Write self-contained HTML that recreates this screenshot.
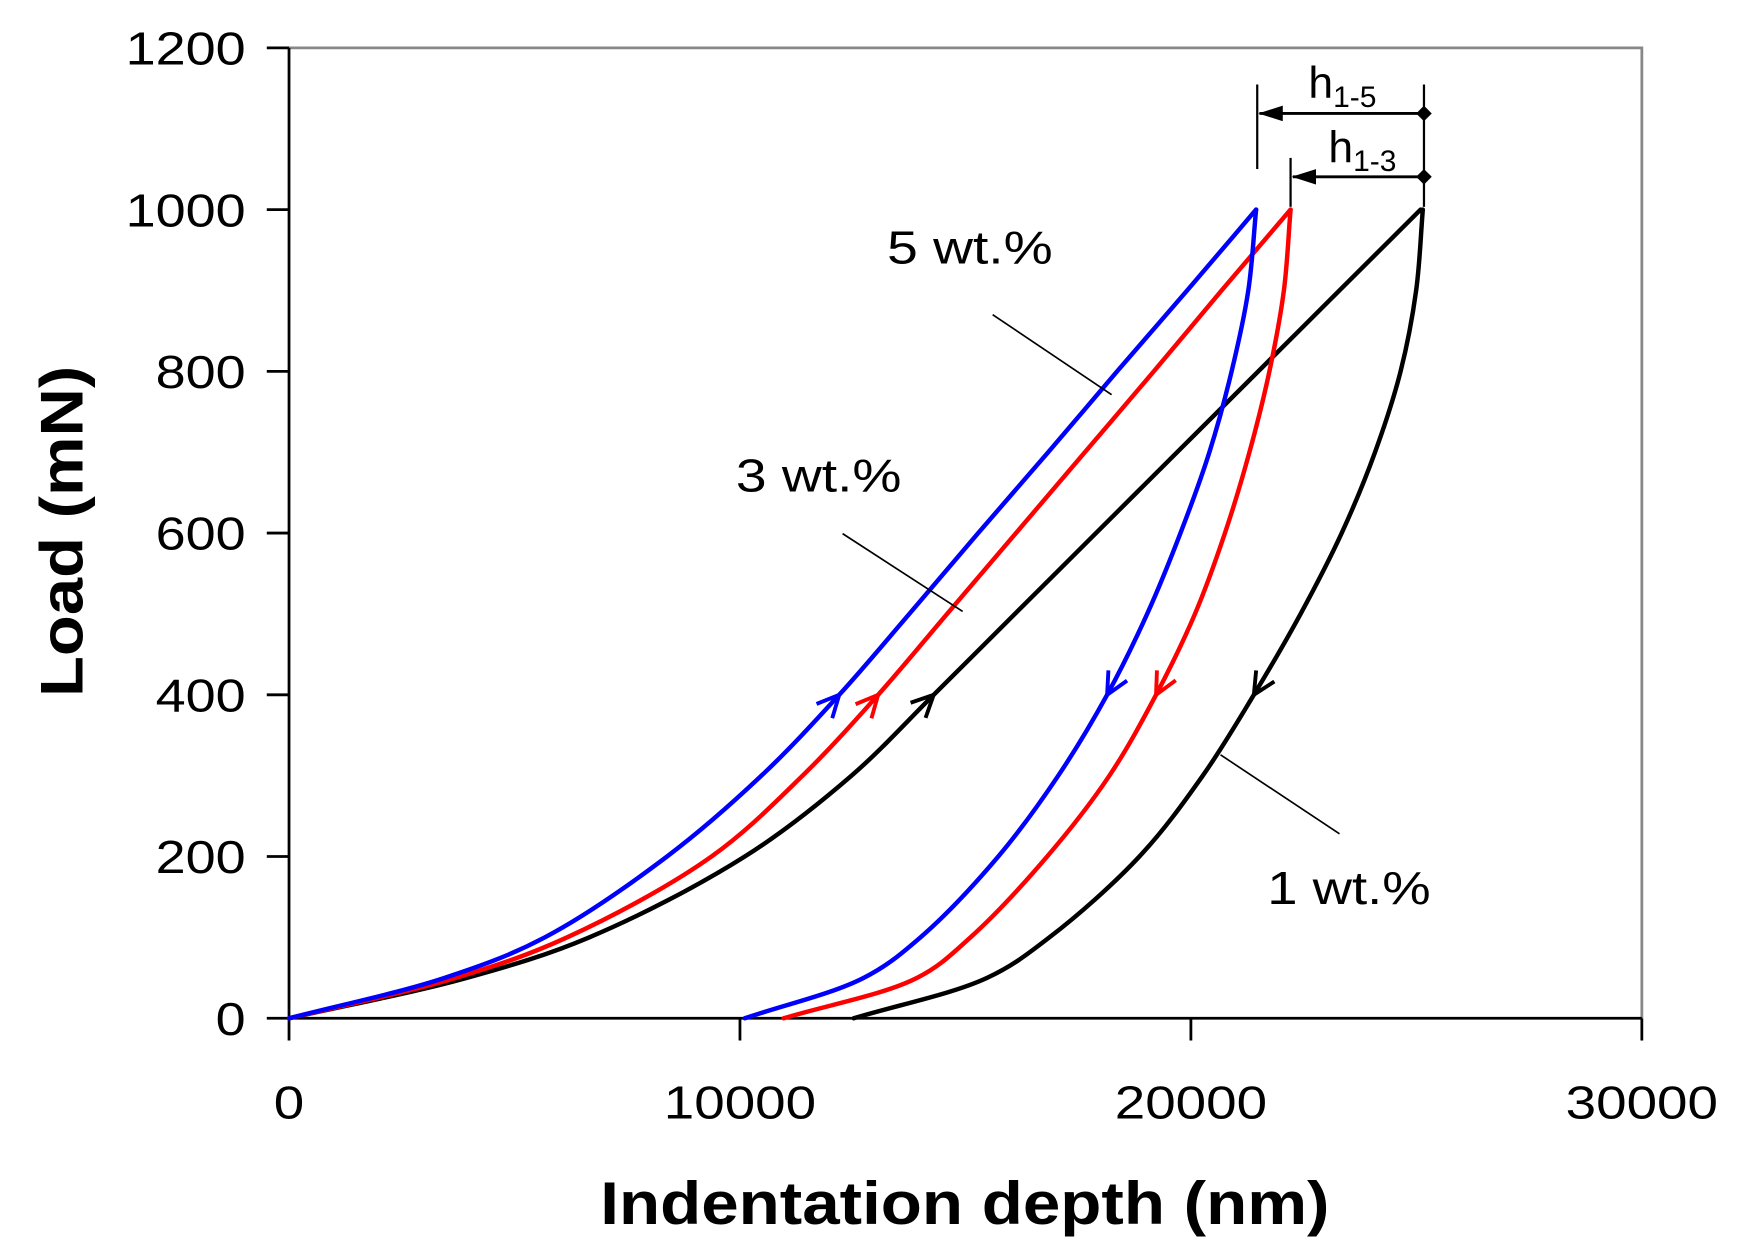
<!DOCTYPE html>
<html><head><meta charset="utf-8"><style>
html,body{margin:0;padding:0;background:#fff}
svg{display:block}
text{font-family:"Liberation Sans",Arial,sans-serif}
</style></head><body>
<svg id="chart" width="1743" height="1254" viewBox="0 0 1568 1128" xmlns="http://www.w3.org/2000/svg">
<defs>
<marker id="ah" markerWidth="22" markerHeight="14" refX="21" refY="7" orient="auto" markerUnits="userSpaceOnUse"><path d="M0,0 L22,7 L0,14 Z" fill="#000"/></marker>
</defs>
<g id="axes"></g>
<g id="series"></g>
<g id="notes">
  <text x="798" y="237" font-size="42" textLength="149" lengthAdjust="spacingAndGlyphs">5 wt.%</text>
  <line x1="893" y1="283" x2="1000" y2="355" stroke="#000" stroke-width="1.5"/>
  <text x="662" y="442" font-size="42" textLength="149" lengthAdjust="spacingAndGlyphs">3 wt.%</text>
  <line x1="758" y1="480" x2="866" y2="550" stroke="#000" stroke-width="1.5"/>
  <text x="1140" y="813" font-size="42" textLength="147" lengthAdjust="spacingAndGlyphs">1 wt.%</text>
  <line x1="1098" y1="679" x2="1205" y2="750" stroke="#000" stroke-width="1.5"/>
  <line x1="1131" y1="76" x2="1131" y2="152" stroke="#000" stroke-width="2"/>
  <line x1="1161" y1="142" x2="1161" y2="186" stroke="#000" stroke-width="2"/>
  <line x1="1281" y1="76" x2="1281" y2="186" stroke="#000" stroke-width="2"/>
  <line x1="1281" y1="102" x2="1133" y2="102" stroke="#000" stroke-width="2.5" marker-end="url(#ah)"/>
  <line x1="1281" y1="159" x2="1163" y2="159" stroke="#000" stroke-width="2.5" marker-end="url(#ah)"/>
  <path d="M1281,95 L1288,102 L1281,109 L1274,102 Z" fill="#000"/>
  <path d="M1281,152 L1288,159 L1281,166 L1274,159 Z" fill="#000"/>
  <text x="1177" y="88" font-size="40">h<tspan font-size="27" dy="8">1-5</tspan></text>
  <text x="1195" y="146" font-size="40">h<tspan font-size="27" dy="8">1-3</tspan></text>
</g>
<text x="540" y="1101" font-size="54" font-weight="bold" textLength="656" lengthAdjust="spacingAndGlyphs">Indentation depth (nm)</text>
<text transform="translate(74,627) rotate(-90)" font-size="54" font-weight="bold" textLength="298" lengthAdjust="spacingAndGlyphs">Load (mN)</text>
</svg>
<script>
const xTicks=[0,10000,20000,30000];
const yTicks=[0,200,400,600,800,1000,1200];
const seriesNames=['1 wt.%','3 wt.%','5 wt.%'];
const seriesColors=['#000','#ff0000','#0000ff'];
const loadLevels=[0,50,100,200,300,400,500,600,700,800,900,1000];
const black_load_depth=[0,3944,6656,10107,12473,14297,16096,17896,19695,21495,23294,25094];
const red_load_depth=[0,3698,6163,9367,11388,13065,14593,16121,17649,19178,20681,22210];
const blue_load_depth=[0,3451,5670,8381,10476,12202,13755,15283,16836,18364,19917,21446];
const black_unload_depth=[12522,15480,16861,18857,20263,21396,22432,23344,24083,24650,24995,25143];
const red_unload_depth=[10969,13927,15110,16811,18192,19227,20090,20755,21298,21741,22062,22210];
const blue_unload_depth=[10107,12744,14001,15727,17058,18142,19030,19769,20410,20903,21273,21446];

const X0=260,X1=1477,Y0=916,Y1=43;
const sx=d=>X0+d/30000*(X1-X0);
const sy=l=>Y0-l/1200*(Y0-Y1);
const NS='http://www.w3.org/2000/svg';
function mk(tag,attrs,parent){const e=document.createElementNS(NS,tag);for(const k in attrs)e.setAttribute(k,attrs[k]);parent.appendChild(e);return e;}
const ax=document.getElementById('axes');
let e;
e=mk('path',{d:`M${X0},${Y1} L${X1},${Y1} L${X1},${Y0}`,fill:'none',stroke:'#888','stroke-width':2.5},ax);


e=mk('line',{x1:X0,y1:Y1,x2:X0,y2:Y0,stroke:'#000','stroke-width':2.5},ax);


e=mk('line',{x1:X0,y1:Y0,x2:X1,y2:Y0,stroke:'#000','stroke-width':2.5},ax);


yTicks.forEach(v=>{
  e=mk('line',{x1:X0-20,y1:sy(v),x2:X0,y2:sy(v),stroke:'#000','stroke-width':2.5},ax);
  
  
  const s=String(v);
  e=mk('text',{x:221,y:sy(v)+15,'font-size':42,'text-anchor':'end',textLength:27*s.length,lengthAdjust:'spacingAndGlyphs'},ax);e.textContent=s;
  
  
});
xTicks.forEach(v=>{
  e=mk('line',{x1:sx(v),y1:Y0,x2:sx(v),y2:Y0+20,stroke:'#000','stroke-width':2.5},ax);
  
  
  const s=String(v);
  e=mk('text',{x:sx(v),y:1006,'font-size':42,'text-anchor':'middle',textLength:27.4*s.length,lengthAdjust:'spacingAndGlyphs'},ax);e.textContent=s;
  
  
});
function crPath(pts){
  const n=pts.length;
  const P=[[2*pts[0][0]-pts[1][0],2*pts[0][1]-pts[1][1]],...pts,[2*pts[n-1][0]-pts[n-2][0],2*pts[n-1][1]-pts[n-2][1]]];
  const dist=(a,b)=>Math.pow(Math.hypot(b[0]-a[0],b[1]-a[1]),0.5)||1e-6;
  let d=`M${pts[0][0].toFixed(2)},${pts[0][1].toFixed(2)}`;
  for(let i=1;i<P.length-2;i++){
    const p0=P[i-1],p1=P[i],p2=P[i+1],p3=P[i+2];
    const d1=dist(p0,p1),d2=dist(p1,p2),d3=dist(p2,p3);
    const c1=[0,1].map(k=>(d1*d1*p2[k]-d2*d2*p0[k]+(2*d1*d1+3*d1*d2+d2*d2)*p1[k])/(3*d1*(d1+d2)));
    const c2=[0,1].map(k=>(d3*d3*p1[k]-d2*d2*p3[k]+(2*d3*d3+3*d3*d2+d2*d2)*p2[k])/(3*d3*(d3+d2)));
    d+=` C${c1[0].toFixed(2)},${c1[1].toFixed(2)} ${c2[0].toFixed(2)},${c2[1].toFixed(2)} ${p2[0].toFixed(2)},${p2[1].toFixed(2)}`;
  }
  return d;
}
const sg=document.getElementById('series');
const loads=[black_load_depth,red_load_depth,blue_load_depth];
const unloads=[black_unload_depth,red_unload_depth,blue_unload_depth];
function arrow(dir,tip,col,name){
  const a=Math.atan2(dir[1],dir[0]);
  const t=tip, L=22, sp=0.45;
  const w1=[t[0]-L*Math.cos(a-sp),t[1]-L*Math.sin(a-sp)];
  const w2=[t[0]-L*Math.cos(a+sp),t[1]-L*Math.sin(a+sp)];
  const p=`M${w1[0]},${w1[1]} L${t[0]},${t[1]} L${w2[0]},${w2[1]}`;
  const el=mk('path',{d:p,fill:'none',stroke:col,'stroke-width':3.5},sg);
  
  
}
[0,1,2].forEach(i=>{
  const col=seriesColors[i];
  const lp=loads[i].map((d,j)=>[sx(d),sy(loadLevels[j])]);
  const up=unloads[i].map((d,j)=>[sx(d),sy(loadLevels[j])]);
  let el=mk('path',{d:crPath(lp),fill:'none',stroke:col,'stroke-width':4,'stroke-linejoin':'round','stroke-linecap':'round'},sg);
  
  
  el=mk('path',{d:crPath(up),fill:'none',stroke:col,'stroke-width':4,'stroke-linejoin':'round','stroke-linecap':'round'},sg);
  
  
  const k=loadLevels.indexOf(400);
  arrow([lp[k+1][0]-lp[k-1][0],lp[k+1][1]-lp[k-1][1]],lp[k],col,'loading-arrow');
  arrow([up[k-1][0]-up[k+1][0],up[k-1][1]-up[k+1][1]],up[k],col,'unloading-arrow');
});
</script>
</body></html>
